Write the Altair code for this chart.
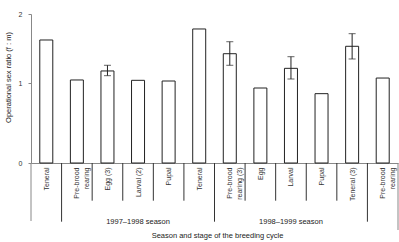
import json
import altair as alt
import pandas as pd

# ---- data ----
label_lines = [["Teneral"], ["Pre-brood", "rearing"], ["Egg (3)"], ["Larval (2)"], ["Pupal"],
               ["Teneral"], ["Pre-brood", "rearing (3)"], ["Egg"], ["Larval"], ["Pupal"],
               ["Teneral (3)"], ["Pre-brood", "rearing"]]
ratio = [1.625, 1.048, 1.178, 1.043, 1.033, 1.784, 1.427, 0.941, 1.216, 0.870, 1.534, 1.076]
err_low = [None, None, 1.11, None, None, None, 1.26, None, 1.062, None, 1.351, None]
err_high = [None, None, 1.26, None, None, None, 1.60, None, 1.384, None, 1.716, None]
seasons = ["1997–1998 season", "1998–1999 season"]
season_start = [1, 6]
season_end = [6, 11]
long_bounds = [1, 6, 11]
short_bounds = [2, 3, 4, 5, 7, 8, 9, 10]
left_bound = [0]
right_bound = [12]
y_ticks = [0, 1, 2]

FONT = "Liberation Sans"
n = len(ratio)
HALF_BAR = 0.2125  # half bar width in slot units

bars_df = pd.DataFrame({"idx": list(range(n)), "ratio": ratio})
err_df = pd.DataFrame({"idx": list(range(n)), "lo": err_low, "hi": err_high}).dropna()
season_df = pd.DataFrame({"season": seasons, "s": season_start, "e": season_end})

W, H = 367, 149
y_scale = alt.Scale(domain=[0, 1, 2], range=[H, 69.3, 0], nice=False)
x_lin = alt.Scale(domain=[0, 12], nice=False, zero=False)

label_expr = json.dumps(label_lines, ensure_ascii=False) + "[floor(datum.value)]"
centers = [i + 0.5 for i in range(n)]

x_enc = alt.X(
    "x0:Q", scale=x_lin,
    axis=alt.Axis(
        title="Season and stage of the breeding cycle", values=centers, tickCount=len(centers),
        labelExpr=label_expr, labelAngle=270, labelAlign="right", labelBaseline="middle",
        labelPadding=4, labelFontSize=7, labelFont=FONT, labelColor="#333",
        labelLineHeight=9.5, ticks=False, grid=False, domainColor="#888", domainWidth=1,
        titleFont=FONT, titleFontSize=7.5, titleFontWeight="normal", titleColor="#222",
        titleY=72, titleX=186, titleBaseline="middle", titleAlign="center",
        labelOverlap=False, labelFlush=False, labelBound=False,
    ),
)

y_enc = alt.Y(
    "ratio:Q", scale=y_scale,
    axis=alt.Axis(
        title="Operational sex ratio (f : m)", values=y_ticks, tickCount=10,
        labelExpr="format(datum.value, 'd')",
        grid=False, tickSize=3, tickColor="#888", domainColor="#888",
        labelFontSize=7, labelFont=FONT, labelColor="#333", labelPadding=6,
        labelOverlap=False, labelFlush=False,
        titleFont=FONT, titleFontSize=7.5, titleFontWeight="normal", titleColor="#222",
        titleAngle=270, titleX=-23, titleY=63, titleAlign="center", titleBaseline="middle",
    ),
)

bars = alt.Chart(bars_df).transform_calculate(
    x0=f"datum.idx + 0.5 - {HALF_BAR}", x1=f"datum.idx + 0.5 + {HALF_BAR}"
).mark_bar(fill="white", stroke="#222", strokeWidth=1).encode(
    x=x_enc, x2="x1:Q", y=y_enc, y2=alt.datum(0)
)

err_base = alt.Chart(err_df).transform_calculate(xc="datum.idx + 0.5")
err_rule = err_base.mark_rule(color="#222", strokeWidth=1).encode(
    x=alt.X("xc:Q", scale=x_lin),
    y=alt.Y("lo:Q", scale=y_scale),
    y2="hi:Q",
)
err_cap_hi = err_base.mark_tick(color="#222", thickness=1, size=7, orient="horizontal").encode(
    x=alt.X("xc:Q", scale=x_lin),
    y=alt.Y("hi:Q", scale=y_scale),
)
err_cap_lo = err_base.mark_tick(color="#222", thickness=1, size=7, orient="horizontal").encode(
    x=alt.X("xc:Q", scale=x_lin),
    y=alt.Y("lo:Q", scale=y_scale),
)


def bound_rules(vals, color, y_end):
    df = pd.DataFrame({"b": vals})
    return alt.Chart(df).mark_rule(color=color, strokeWidth=1).encode(
        x=alt.X("b:Q", scale=x_lin),
        y=alt.value(H),
        y2=alt.value(y_end),
    )


short_r = bound_rules(short_bounds, "#333", 186.7)
long_r = bound_rules(long_bounds, "#333", 207.7)
left_r = bound_rules(left_bound, "#888", 207)
right_r = bound_rules(right_bound, "#888", 216)

season_txt = alt.Chart(season_df).transform_calculate(
    mid="(datum.s + datum.e) / 2"
).mark_text(
    font=FONT, fontSize=7.5, color="#222", baseline="middle", align="center"
).encode(
    x=alt.X("mid:Q", scale=x_lin),
    y=alt.value(207.5),
    text="season:N",
)

chart = alt.layer(
    bars, err_rule, err_cap_hi, err_cap_lo,
    short_r, long_r, left_r, right_r, season_txt,
).properties(
    width=W, height=H,
    autosize=alt.AutoSizeParams(type="none"),
    padding={"left": 31, "top": 14, "right": 1, "bottom": 79},
    background="white",
).configure_view(stroke=None).configure_axis(
    labelOverlap=False, grid=False, labelFlush=False
)

chart.save("out.html", embed_options={"renderer": "svg", "actions": False})
